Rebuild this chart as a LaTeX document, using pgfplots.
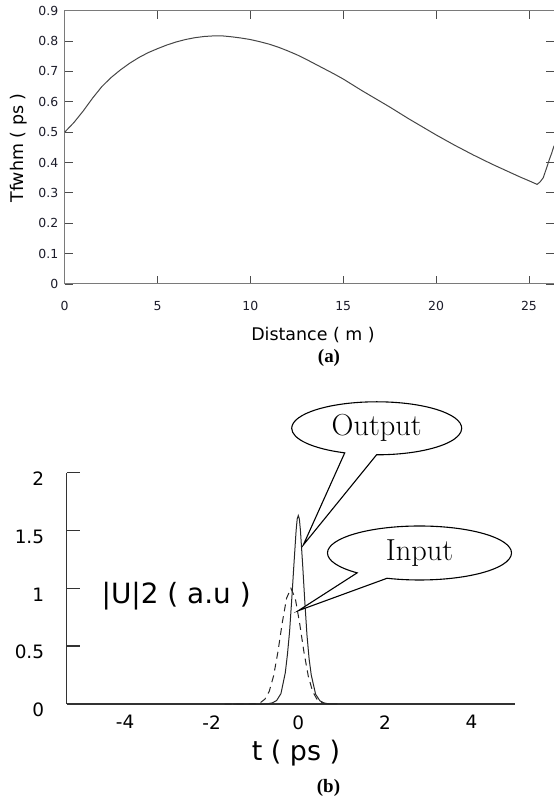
\documentclass[border=0pt]{standalone}
\usepackage{pgfplots}
\pgfplotsset{compat=1.18}
\usepackage{fontspec}
\newfontfamily\dv{DejaVu Sans}
\newfontfamily\tnr{Liberation Serif}
\usetikzlibrary{shapes.callouts}
\definecolor{axgray}{HTML}{7A7A7A}
\definecolor{curve}{HTML}{454545}
\definecolor{lbl}{HTML}{1C1C2A}
\begin{document}
\begin{tikzpicture}
\useasboundingbox (0,0) rectangle (554bp,798bp);
% ---------- (a) ----------
\begin{axis}[
  scale only axis,
  width=489.3bp, height=273.3bp,
  at={(64.7bp,514bp)}, anchor=south west,
  xmin=0, xmax=26.35, ymin=0, ymax=0.9,
  xtick={0,5,10,15,20,25}, xticklabels={0,5,10,15,20,25},
  ytick={0,0.1,0.2,0.3,0.4,0.5,0.6,0.7,0.8,0.9},
  yticklabels={0,0.1,0.2,0.3,0.4,0.5,0.6,0.7,0.8,0.9},
  tick align=inside, major tick length=8bp,
  tick style={black!70, line width=0.8bp},
  axis line style={axgray, line width=1bp},
  tick label style={font=\dv\fontsize{12.5}{14}\selectfont, text=lbl},
  xticklabel style={yshift=-14bp},
  yticklabel style={xshift=-3bp},
  clip=false,
]
\addplot[curve, line width=1bp] coordinates {
(0,0.500) (0.5,0.532) (1.0,0.570) (1.5,0.612) (2.0,0.650) (2.5,0.680)
(3.0,0.705) (3.5,0.727) (4.0,0.746) (4.5,0.762) (5.0,0.775) (5.5,0.787)
(6.0,0.797) (6.5,0.805) (7.0,0.811) (7.5,0.815) (8.0,0.817) (8.5,0.817)
(9.0,0.814) (9.5,0.810) (10.0,0.805) (10.5,0.798) (11.0,0.790) (11.5,0.780)
(12.0,0.768) (12.5,0.755) (13.0,0.740) (13.5,0.724) (14.0,0.708) (14.5,0.692)
(15.0,0.675) (15.5,0.656) (16.0,0.637) (16.5,0.619) (17.0,0.601) (17.5,0.583)
(18.0,0.564) (18.5,0.545) (19.0,0.527) (19.5,0.509) (20.0,0.491) (20.5,0.474)
(21.0,0.457) (21.5,0.441) (22.0,0.425) (22.5,0.410) (23.0,0.395) (23.5,0.381)
(24.0,0.367) (24.5,0.353) (25.0,0.340) (25.44,0.328) (25.6,0.336) (25.77,0.350)
(25.95,0.382) (26.1,0.410) (26.22,0.430) (26.35,0.455)
};
\end{axis}
% ---------- (b) ----------
\begin{axis}[
  scale only axis,
  width=448.2bp, height=231.3bp,
  at={(66.6bp,94bp)}, anchor=south west,
  xmin=-5.35, xmax=5, ymin=0, ymax=2,
  axis x line=bottom, axis y line=left,
  axis line style={-, black!80, line width=1.6bp},
  xtick={-4,-2,0,2,4}, xticklabels={-4,-2,0,2,4},
  ytick={0,0.5,1,1.5,2}, yticklabels={0,0.5,1,1.5,2},
  xtick style={draw=none},
  ytick style={black!80, line width=1.4bp},
  tick align=inside, major tick length=13bp, ytick pos=left,
  tick label style={font=\dv\fontsize{18.5}{22}\selectfont, text=black},
  xticklabel style={yshift=-8bp},
  yticklabel style={xshift=-19bp, yshift=-6bp},
  clip=false,
]
\addplot[black!85, line width=1bp] coordinates {
(-1.5,0) (-0.8,0) (-0.7,0.002) (-0.6,0.01) (-0.5,0.03) (-0.4,0.09) (-0.3,0.27)
(-0.25,0.43) (-0.2,0.63) (-0.15,0.91) (-0.1,1.21) (-0.05,1.50) (-0.025,1.60)
(0,1.63) (0.025,1.60) (0.05,1.50) (0.1,1.21) (0.15,0.89) (0.2,0.60)
(0.25,0.39) (0.3,0.25) (0.4,0.085) (0.5,0.027)
(0.6,0.008) (0.7,0.002) (0.9,0)
};
\addplot[black!85, line width=1bp, dash pattern=on 7bp off 5bp] coordinates {
(-1.7,0) (-1.2,0) (-0.97,0.004) (-0.87,0.013) (-0.77,0.042) (-0.67,0.11)
(-0.57,0.243) (-0.47,0.451) (-0.37,0.702) (-0.27,0.915) (-0.17,1.0)
(-0.07,0.915) (0.03,0.702) (0.13,0.451) (0.23,0.243) (0.33,0.11)
(0.43,0.042) (0.53,0.013) (0.63,0.004) (0.8,0)
};
\node[font=\dv\fontsize{28}{32}\selectfont] at (axis cs:-2.82,0.93) {|U|2 ( a.u )};
\end{axis}
% labels
\node[rotate=90, font=\dv\fontsize{17.5}{20}\selectfont] at (19bp,650bp) {Tfwhm ( ps )};
\node[font=\dv\fontsize{17.5}{20}\selectfont] at (313bp,463bp) {Distance ( m )};
\node[font=\tnr\bfseries\fontsize{19}{22}\selectfont] at (329bp,440bp) {(a)};
\node[font=\dv\fontsize{27}{30}\selectfont] at (296bp,45bp) {t ( ps )};
\node[font=\tnr\bfseries\fontsize{19}{22}\selectfont] at (328.5bp,10.5bp) {(b)};
% callouts
\node[ellipse callout, draw=black, line width=1.1bp, fill=white,
  minimum width=170bp, minimum height=53bp, inner sep=0pt,
  callout absolute pointer={(303.3bp,253bp)}, callout pointer arc=22,
  font=\fontsize{30.5}{34}\selectfont] at (376.7bp,369.7bp) {\raisebox{3bp}{Output}};
\node[ellipse callout, draw=black, line width=1.1bp, fill=white,
  minimum width=184bp, minimum height=54bp, inner sep=0pt,
  callout absolute pointer={(298.3bp,187.3bp)}, callout pointer arc=22,
  font=\fontsize{30.5}{34}\selectfont] at (419.5bp,245bp) {\raisebox{2bp}{Input}};
\end{tikzpicture}
\end{document}
